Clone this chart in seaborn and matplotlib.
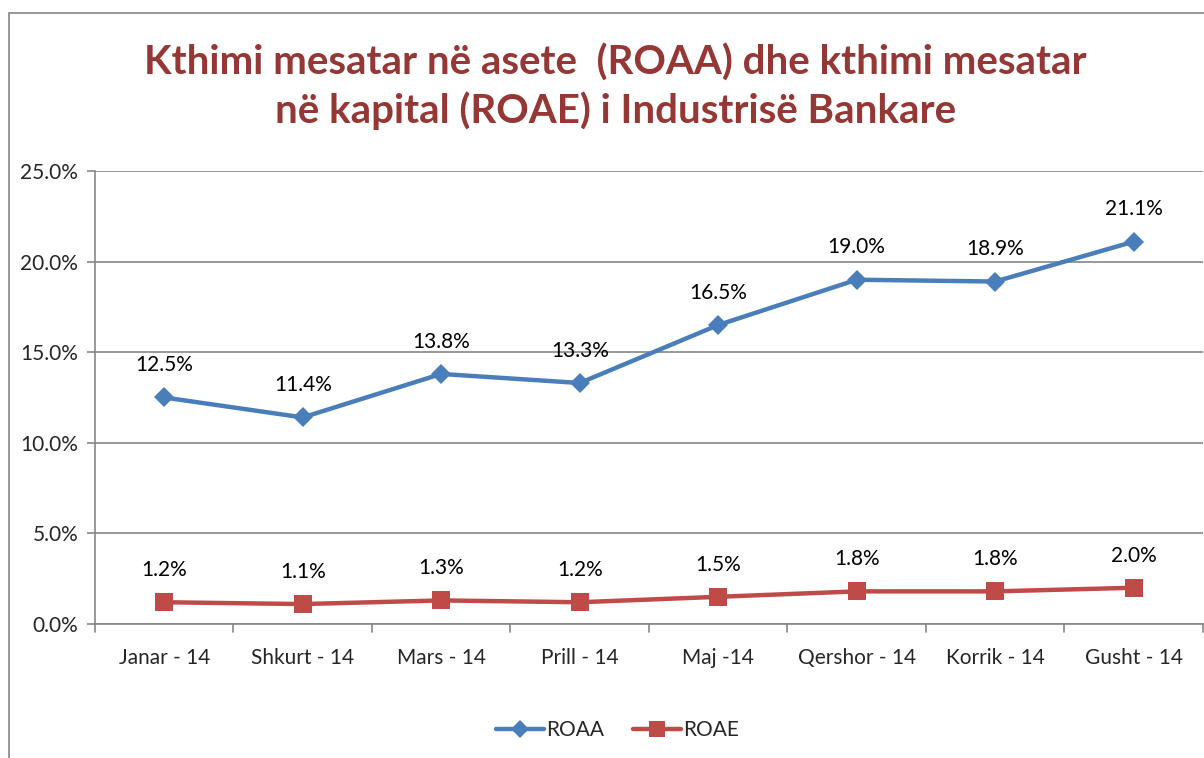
import matplotlib
matplotlib.use("Agg")
from matplotlib import pyplot as plt
from matplotlib.patches import Rectangle
from matplotlib.lines import Line2D
import seaborn as sns
import pandas as pd
import numpy as np

# ------------------------------------------------
# ----- Datos ------------------------------------
# ------------------------------------------------
muajt = ["Janar - 14", "Shkurt - 14", "Mars - 14", "Prill - 14",
         "Maj -14", "Qershor - 14", "Korrik - 14", "Gusht - 14"]
roaa = [12.5, 11.4, 13.8, 13.3, 16.5, 19.0, 18.9, 21.1]
roae = [1.2, 1.1, 1.3, 1.2, 1.5, 1.8, 1.8, 2.0]

titulli = "Kthimi mesatar në asete  (ROAA) dhe kthimi mesatar\nnë kapital (ROAE) i Industrisë Bankare"

blu = "#4A7EBB"
kuq = "#BE4B48"
gri = "#868686"
fs = 15

# ------------------------------------------------
# ----- Tabela per seaborn -----------------------
# ------------------------------------------------
df = pd.DataFrame({
    "muaji": muajt * 2,
    "pos": list(range(len(muajt))) * 2,
    "vlera": roaa + roae,
    "seria": ["ROAA"] * len(muajt) + ["ROAE"] * len(muajt),
})

sns.set_style("white")
plt.rcParams['font.family'] = ['Lato', 'DejaVu Sans']

fig = plt.figure(figsize=(12.04, 7.58), dpi=100)
ax = fig.add_axes([0.0789, 0.1768, 0.9202, 0.5976])

# korniza e grafikut
fig.patches.append(Rectangle((9 / 1204, -0.1), 1.2, 1 - 13 / 758 + 0.1,
                             transform=fig.transFigure, fill=False,
                             edgecolor=gri, linewidth=1.2))

sns.lineplot(data=df, x="pos", y="vlera", hue="seria", style="seria",
             markers={"ROAA": "D", "ROAE": "s"}, dashes=False,
             palette={"ROAA": blu, "ROAE": kuq}, linewidth=3.2,
             markersize=11, markeredgewidth=0, ax=ax, legend=False)
for line in ax.lines:
    if line.get_marker() == "D":
        line.set_markersize(10)
    else:
        line.set_markersize(13)

# etiketat e te dhenave
for seri in (roaa, roae):
    for i, v in enumerate(seri):
        ax.annotate(f"{v:.1f}%", (i, v), xytext=(0, 16), textcoords="offset points",
                    ha="center", va="bottom", fontsize=fs, color="black")

ax.set_xlim(-0.5, len(muajt) - 0.5)
ax.set_ylim(0, 25)
ax.set_yticks(np.arange(0, 26, 5))
ax.set_yticklabels([f"{t:.1f}%" for t in np.arange(0, 26, 5)], fontsize=fs)
ax.set_xticks(range(len(muajt)))
ax.set_xticklabels(muajt, fontsize=fs)
ax.tick_params(axis="x", length=0, pad=17)
ax.tick_params(axis="y", length=6, color=gri, width=1.2, pad=6, left=True)
# ticks midis kategorive
for b in np.arange(-0.5, len(muajt), 1.0):
    ax.plot([b, b], [0, -0.45], color=gri, lw=1.2, clip_on=False)

ax.set_xlabel("")
ax.set_ylabel("")
ax.grid(axis="y", color=gri, linewidth=1.2)
ax.set_axisbelow(True)
for s in ["top", "right"]:
    ax.spines[s].set_visible(False)
for s in ["left", "bottom"]:
    ax.spines[s].set_color(gri)
    ax.spines[s].set_linewidth(1.2)

fig.text(0.511, 0.942, titulli, ha="center", va="top", fontsize=29,
         fontweight="bold", color="#953735", linespacing=1.3)

handles = [Line2D([], [], color=blu, lw=3.2, marker="D", markersize=9, markeredgewidth=0),
           Line2D([], [], color=kuq, lw=3.2, marker="s", markersize=11, markeredgewidth=0)]
fig.legend(handles, ["ROAA", "ROAE"], loc="center", bbox_to_anchor=(0.513, 0.037),
           ncol=2, frameon=False, fontsize=fs, handlelength=2.3,
           handletextpad=0.1, columnspacing=1.4)

fig.savefig("out.png", dpi=100)
